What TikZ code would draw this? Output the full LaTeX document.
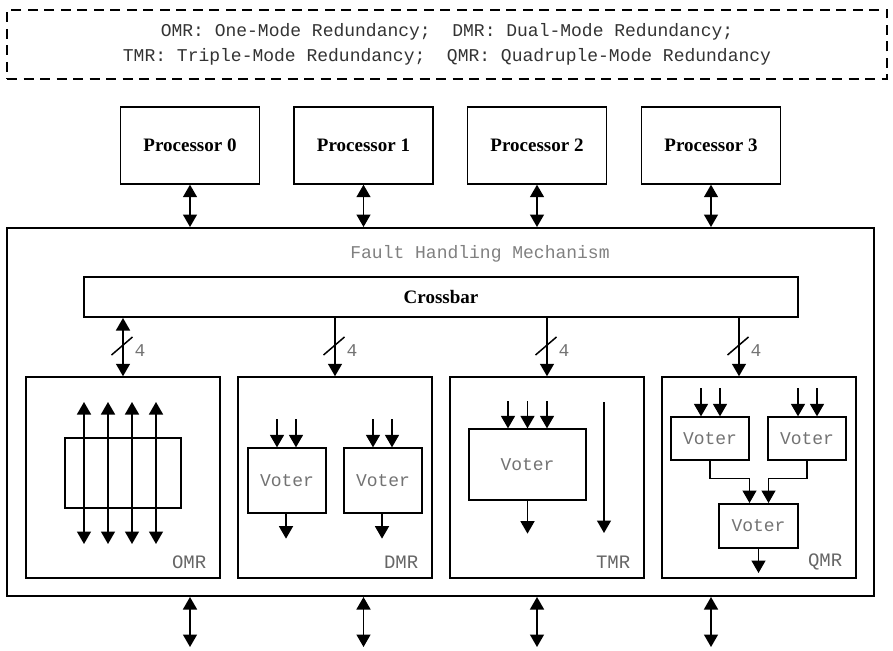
\documentclass[tikz,border=0pt]{standalone}
\usepackage{fontspec}
\setmainfont{Liberation Serif}
\setmonofont{Liberation Mono}
\usetikzlibrary{arrows.meta}

\tikzset{
  x=1pt, y=-1pt,
  tip/.tip={Triangle[width=14pt,length=12.5pt]},
  arr/.style={-tip, line width=1.5pt},
  darr/.style={tip-tip, line width=1.5pt},
  procbox/.style={draw, line width=1.4pt, minimum width=139, minimum height=77,
    font=\fontsize{19}{21}\selectfont\bfseries},
  modebox/.style={draw, line width=1.5pt, minimum width=194, minimum height=201},
  voterbox/.style={draw, line width=1.3pt, font=\fontsize{18}{20}\selectfont\ttfamily,
    text=black!55},
  modelabel/.style={anchor=east, font=\fontsize{19}{21}\selectfont\ttfamily, text=black!60},
  monotext/.style={font=\fontsize{18}{20}\selectfont\ttfamily},
  buswidth/.pic={
    \draw[line width=1.5pt] (-10.5,9) -- (10.5,-9);
    \node[monotext, text=black!55] at (18,5) {4};
  }
}

\begin{document}
\begin{tikzpicture}
\useasboundingbox (0,0) rectangle (893,650);

% legend
\node[draw, dashed, dash pattern=on 10pt off 6.5pt, line width=1.8pt,
      minimum width=880, minimum height=69, align=center, monotext,
      text=black!80] (legend) at (447,44.5)
  {OMR: One-Mode Redundancy;~~DMR: Dual-Mode Redundancy;\\[5pt]
   TMR: Triple-Mode Redundancy;~~QMR: Quadruple-Mode Redundancy};

% processors
\node[procbox] (p0) at (190,145.5) {Processor 0};
\node[procbox] (p1) at (363.5,145.5) {Processor 1};
\node[procbox] (p2) at (537,145.5) {Processor 2};
\node[procbox] (p3) at (711,145.5) {Processor 3};

% fault handling block
\node[draw, line width=2pt, minimum width=867, minimum height=368] (fhm) at (440.5,412) {};
\node[monotext, text=black!50] (fhmtitle) at (480,254) {Fault Handling Mechanism};

\node[draw, line width=2pt, minimum width=714, minimum height=40,
      font=\fontsize{19}{21}\selectfont\bfseries] (cb) at (441,297) {Crossbar};

% processor links and external links
\foreach \p in {p0,p1,p2,p3}{
  \draw[darr] (\p.south) -- (\p.south |- fhm.north);
  \coordinate (\p out) at ([yshift=-50]\p.south |- fhm.south);
  \draw[darr] (\p.south |- fhm.south) -- (\p out);
}

% redundancy modes
\node[modebox] (omr) at (123,477.5) {};
\node[modebox] (dmr) at (335,477.5) {};
\node[modebox] (tmr) at (547,477.5) {};
\node[modebox] (qmr) at (759,477.5) {};

\node[modelabel] at ([xshift=-11]omr.east |- 0,562) {OMR};
\node[modelabel] at ([xshift=-11]dmr.east |- 0,562) {DMR};
\node[modelabel] at ([xshift=-11]tmr.east |- 0,562) {TMR};
\node[modelabel] at ([xshift=-11]qmr.east |- 0,562) {QMR};

% crossbar to modes, 4 lines each
\draw[darr] (omr.north |- cb.south) -- (omr.north);
\draw[arr] (dmr.north |- cb.south) -- (dmr.north);
\draw[arr] (tmr.north |- cb.south) -- (tmr.north);
\draw[arr] ([xshift=-20]qmr.north |- cb.south) -- ([xshift=-20]qmr.north);
\pic at (122,346) {buswidth};
\pic at (334,346) {buswidth};
\pic at (546,346) {buswidth};
\pic at (738,346) {buswidth};

% OMR: four pass-through lines
\node[draw, line width=2pt, minimum width=116, minimum height=70] (omrcore) at (123,473) {};
\foreach \i/\x in {1/84,2/108,3/132,4/156}{
  \coordinate (omrt\i) at (\x,402);
  \coordinate (omrb\i) at (\x,544);
  \draw[darr] (omrb\i) -- (omrt\i);
}

% DMR: two voters
\node[voterbox, minimum width=78, minimum height=65] (dv1) at (287,480.5) {Voter};
\node[voterbox, minimum width=78, minimum height=65] (dv2) at (383,480.5) {Voter};
\foreach \v in {dv1,dv2}{
  \coordinate (\v ia) at ([xshift=-10,yshift=28]\v.north);
  \coordinate (\v ib) at ([xshift=9,yshift=28]\v.north);
  \draw[arr] (\v ia) -- (\v ia |- \v.north);
  \draw[arr] (\v ib) -- (\v ib |- \v.north);
  \coordinate (\v o) at ([xshift=-1,yshift=-25]\v.south);
  \draw[arr] (\v o |- \v.south) -- (\v o);
}

% TMR: one voter with three inputs plus a bypass
\node[voterbox, minimum width=117, minimum height=71] (tv) at (527.5,464.5) {Voter};
\foreach \d/\n in {-19.5/a,0/b,19.5/c}{
  \coordinate (tvi\n) at ([xshift=\d,yshift=27]tv.north);
  \draw[arr] (tvi\n) -- (tvi\n |- tv.north);
}
\coordinate (tvo) at ([yshift=-33]tv.south);
\draw[arr] (tv.south) -- (tvo);
\coordinate (tbyin) at (604,402);
\coordinate (tbyout) at (604,533);
\draw[arr] (tbyin) -- (tbyout);

% QMR: two voters feeding a third
\node[voterbox, minimum width=78, minimum height=43] (qa) at (710,438.5) {Voter};
\node[voterbox, minimum width=78, minimum height=43] (qb) at (807,438.5) {Voter};
\node[voterbox, line width=2pt, minimum width=79, minimum height=44] (qc) at (758.5,526) {Voter};
\foreach \v in {qa,qb}{
  \coordinate (\v ia) at ([xshift=-9,yshift=28]\v.north);
  \coordinate (\v ib) at ([xshift=10,yshift=28]\v.north);
  \draw[arr] (\v ia) -- (\v ia |- \v.north);
  \draw[arr] (\v ib) -- (\v ib |- \v.north);
}
\draw[arr, line width=1.3pt] (qa.south) |- ++(0,18) -| ([xshift=-9]qc.north);
\draw[arr, line width=1.3pt] (qb.south) |- ++(0,18) -| ([xshift=10]qc.north);
\coordinate (qco) at ([yshift=-24]qc.south);
\draw[arr] (qc.south) -- (qco);

\end{tikzpicture}
\end{document}
